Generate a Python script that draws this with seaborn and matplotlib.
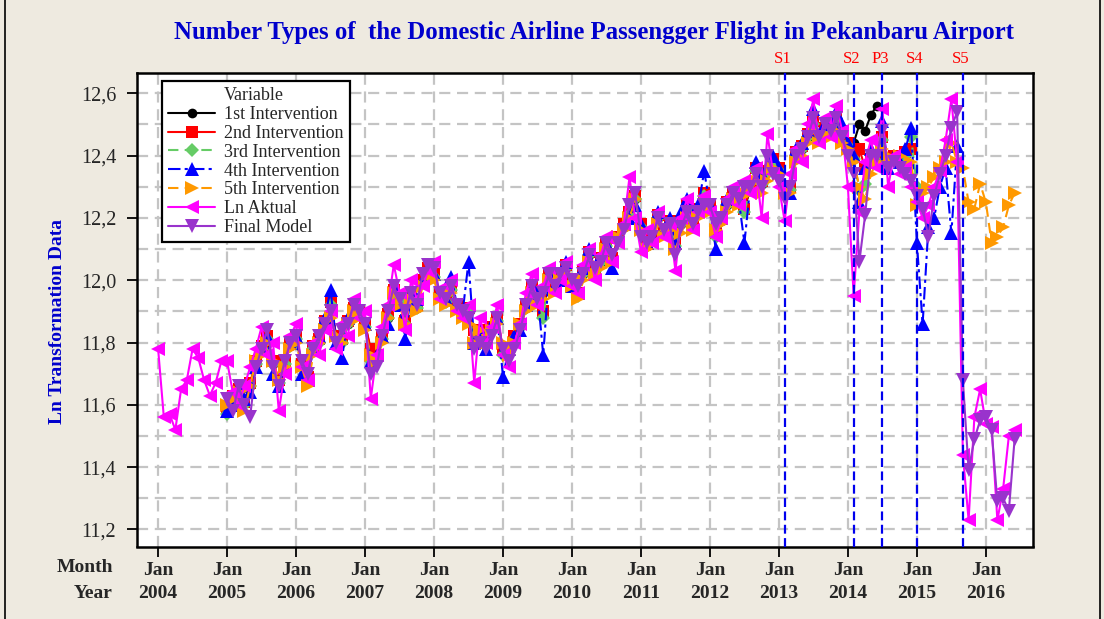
import numpy as np
import pandas as pd
import matplotlib
matplotlib.use("Agg")
import matplotlib.pyplot as plt
import seaborn as sns
from matplotlib.ticker import FixedLocator, FuncFormatter
from matplotlib.lines import Line2D
import matplotlib.transforms as mtransforms

# ---------------- data (month index 0 = Jan 2004) ----------------
ln_aktual = [
    11.78, 11.56, 11.57, 11.52, 11.65, 11.68, 11.78, 11.75, 11.68, 11.63, 11.67, 11.74,
    11.74, 11.64, 11.60, 11.66, 11.72, 11.78, 11.85, 11.76, 11.80, 11.58, 11.70, 11.82,
    11.86, 11.72, 11.68, 11.80, 11.76, 11.84, 11.90, 11.78, 11.86, 11.82, 11.94, 11.88,
    11.90, 11.62, 11.76, 11.85, 11.92, 12.05, 11.96, 11.84, 12.00, 11.94, 11.98, 12.03,
    12.06, 11.94, 11.98, 12.00, 11.90, 11.88, 11.92, 11.67, 11.88, 11.80, 11.85, 11.92,
    11.76, 11.72, 11.80, 11.86, 11.96, 12.02, 11.92, 11.98, 12.04, 11.96, 12.00, 12.06,
    11.98, 11.96, 12.05, 12.10, 12.00, 12.08, 12.14, 12.06, 12.12, 12.18, 12.33, 12.20,
    12.09, 12.16, 12.12, 12.22, 12.14, 12.18, 12.03, 12.20, 12.26, 12.16, 12.22, 12.27,
    12.22, 12.14, 12.20, 12.26, 12.30, 12.24, 12.32, 12.28, 12.36, 12.20, 12.47, 12.34,
    12.30, 12.19, 12.34, 12.42, 12.38, 12.50, 12.58, 12.44, 12.52, 12.46, 12.56, 12.48,
    12.30, 11.95, 12.22, 12.38, 12.45, 12.36, 12.55, 12.30, 12.40, 12.34, 12.36, 12.30,
    12.25, 12.20, 12.24, 12.30, 12.35, 12.45, 12.58, 12.38, 11.44, 11.23, 11.56, 11.65,
    11.54, 11.53, 11.23, 11.33, 11.50, 11.52]
aktual_start = 0

final_model = [
    11.62, 11.58, 11.66, 11.60, 11.56, 11.72, 11.78, 11.84, 11.72, 11.66, 11.74, 11.80,
    11.82, 11.74, 11.70, 11.78, 11.82, 11.86, 11.90, 11.80, 11.84, 11.86, 11.92, 11.90,
    11.86, 11.70, 11.72, 11.82, 11.90, 11.98, 11.94, 11.90, 11.96, 11.92, 12.02, 12.05,
    12.04, 11.96, 11.94, 11.98, 11.92, 11.90, 11.88, 11.78, 11.80, 11.78, 11.82, 11.88,
    11.78, 11.74, 11.78, 11.84, 11.92, 11.98, 11.94, 11.96, 12.02, 11.98, 12.02, 12.04,
    12.00, 11.98, 12.02, 12.08, 12.04, 12.06, 12.12, 12.08, 12.12, 12.16, 12.24, 12.28,
    12.14, 12.12, 12.14, 12.20, 12.16, 12.18, 12.08, 12.17, 12.22, 12.18, 12.22, 12.24,
    12.24, 12.18, 12.20, 12.24, 12.28, 12.26, 12.30, 12.30, 12.34, 12.30, 12.40, 12.34,
    12.32, 12.26, 12.30, 12.40, 12.42, 12.46, 12.52, 12.46, 12.50, 12.48, 12.52, 12.46,
    12.40, 12.34, 12.06, 12.21, 12.40, 12.40, 12.48, 12.36, 12.38, 12.36, 12.34, 12.32,
    12.27, 12.23, 12.14, 12.27, 12.34, 12.40, 12.49, 12.54, 11.68, 11.39, 11.49, 11.55,
    11.56, 11.52, 11.29, 11.30, 11.26, 11.49]
final_start = 12

int1 = [
    11.60, 11.62, 11.65, 11.61, 11.66, 11.73, 11.79, 11.81, 11.73, 11.67, 11.73, 11.79,
    11.81, 11.73, 11.69, 11.78, 11.81, 11.86, 11.92, 11.82, 11.81, 11.86, 11.91, 11.89,
    11.86, 11.77, 11.75, 11.82, 11.88, 11.96, 11.93, 11.87, 11.94, 11.91, 11.99, 12.03,
    12.01, 11.95, 11.93, 11.97, 11.91, 11.89, 11.90, 11.83, 11.83, 11.80, 11.84, 11.87,
    11.78, 11.77, 11.81, 11.85, 11.91, 11.97, 11.94, 11.89, 12.01, 11.97, 12.00, 12.04,
    11.99, 11.96, 12.02, 12.08, 12.03, 12.06, 12.11, 12.06, 12.13, 12.17, 12.21, 12.26,
    12.17, 12.11, 12.13, 12.20, 12.15, 12.18, 12.11, 12.18, 12.23, 12.17, 12.22, 12.27,
    12.23, 12.15, 12.19, 12.24, 12.27, 12.25, 12.23, 12.29, 12.35, 12.31, 12.36, 12.38,
    12.35, 12.29, 12.30, 12.40, 12.42, 12.46, 12.50, 12.45, 12.48, 12.49, 12.51, 12.47,
    12.43, 12.44, 12.50, 12.48, 12.53, 12.56]
int1_start = 12

int2 = [
    11.59, 11.63, 11.65, 11.61, 11.67, 11.74, 11.79, 11.82, 11.74, 11.68, 11.74, 11.80,
    11.82, 11.73, 11.69, 11.79, 11.81, 11.87, 11.93, 11.82, 11.81, 11.87, 11.91, 11.90,
    11.86, 11.78, 11.76, 11.82, 11.89, 11.97, 11.94, 11.87, 11.95, 11.92, 12.00, 12.04,
    12.02, 11.96, 11.94, 11.98, 11.92, 11.90, 11.91, 11.84, 11.84, 11.80, 11.85, 11.88,
    11.78, 11.78, 11.82, 11.86, 11.92, 11.98, 11.95, 11.90, 12.02, 11.98, 12.01, 12.05,
    12.00, 11.96, 12.03, 12.09, 12.04, 12.07, 12.12, 12.07, 12.14, 12.18, 12.22, 12.27,
    12.18, 12.12, 12.14, 12.21, 12.16, 12.19, 12.12, 12.19, 12.24, 12.18, 12.23, 12.28,
    12.24, 12.15, 12.20, 12.25, 12.28, 12.26, 12.23, 12.30, 12.36, 12.32, 12.35, 12.39,
    12.36, 12.30, 12.30, 12.41, 12.43, 12.47, 12.51, 12.46, 12.49, 12.50, 12.52, 12.48,
    12.44, 12.40, 12.42, 12.36, 12.39, 12.39, 12.46, 12.39, 12.40, 12.40, 12.41, 12.42]
int2_start = 12

int3 = [
    11.57, 11.61, 11.64, 11.60, 11.66, 11.73, 11.78, 11.81, 11.73, 11.67, 11.73, 11.79,
    11.81, 11.72, 11.68, 11.78, 11.80, 11.86, 11.92, 11.81, 11.80, 11.86, 11.90, 11.89,
    11.85, 11.74, 11.75, 11.81, 11.88, 11.96, 11.93, 11.86, 11.94, 11.91, 11.99, 12.03,
    12.01, 11.95, 11.93, 11.97, 11.91, 11.89, 11.90, 11.80, 11.83, 11.79, 11.84, 11.87,
    11.76, 11.77, 11.81, 11.85, 11.91, 11.97, 11.94, 11.88, 12.01, 11.97, 12.00, 12.04,
    11.99, 11.95, 12.02, 12.08, 12.03, 12.06, 12.11, 12.06, 12.13, 12.17, 12.21, 12.26,
    12.17, 12.11, 12.13, 12.20, 12.15, 12.18, 12.11, 12.18, 12.23, 12.17, 12.22, 12.27,
    12.23, 12.14, 12.19, 12.24, 12.27, 12.25, 12.22, 12.29, 12.35, 12.31, 12.34, 12.38,
    12.35, 12.29, 12.29, 12.40, 12.42, 12.46, 12.50, 12.45, 12.48, 12.49, 12.51, 12.47,
    12.43, 12.39, 12.29, 12.31, 12.38, 12.38, 12.45, 12.38, 12.39, 12.39, 12.40, 12.46,
    12.30]
int3_start = 12

int4 = [
    11.58, 11.60, 11.66, 11.62, 11.64, 11.72, 11.78, 11.82, 11.70, 11.66, 11.72, 11.80,
    11.82, 11.70, 11.68, 11.78, 11.82, 11.88, 11.97, 11.80, 11.75, 11.88, 11.92, 11.90,
    11.86, 11.74, 11.76, 11.82, 11.86, 11.98, 11.92, 11.81, 11.96, 11.94, 12.00, 12.04,
    12.02, 11.96, 11.94, 12.01, 11.92, 11.90, 12.06, 11.80, 11.84, 11.78, 11.86, 11.88,
    11.69, 11.78, 11.82, 11.84, 11.92, 11.98, 11.96, 11.76, 12.02, 11.98, 12.00, 12.06,
    11.98, 11.96, 12.04, 12.10, 12.02, 12.08, 12.12, 12.04, 12.14, 12.18, 12.20, 12.24,
    12.18, 12.12, 12.14, 12.22, 12.16, 12.20, 12.12, 12.22, 12.26, 12.18, 12.24, 12.35,
    12.24, 12.10, 12.20, 12.26, 12.28, 12.26, 12.12, 12.30, 12.38, 12.34, 12.36, 12.40,
    12.36, 12.30, 12.28, 12.42, 12.44, 12.48, 12.55, 12.46, 12.50, 12.52, 12.54, 12.50,
    12.44, 12.40, 12.25, 12.36, 12.42, 12.38, 12.51, 12.36, 12.40, 12.38, 12.42, 12.49,
    12.12, 11.86, 12.17, 12.20, 12.30, 12.36, 12.15, 12.43]
int4_start = 12

int5 = [
    11.60, 11.62, 11.64, 11.58, 11.66, 11.74, 11.76, 11.80, 11.74, 11.68, 11.72, 11.78,
    11.80, 11.72, 11.66, 11.76, 11.80, 11.84, 11.88, 11.82, 11.80, 11.86, 11.90, 11.88,
    11.84, 11.76, 11.74, 11.80, 11.88, 11.96, 11.92, 11.86, 11.94, 11.90, 11.98, 12.02,
    12.00, 11.94, 11.92, 11.96, 11.90, 11.88, 11.86, 11.80, 11.84, 11.80, 11.84, 11.86,
    11.80, 11.76, 11.80, 11.86, 11.90, 11.96, 11.92, 11.94, 12.00, 11.96, 12.00, 12.02,
    11.98, 11.94, 12.00, 12.06, 12.02, 12.04, 12.10, 12.06, 12.14, 12.16, 12.20, 12.26,
    12.16, 12.10, 12.12, 12.18, 12.14, 12.16, 12.10, 12.15, 12.20, 12.16, 12.20, 12.22,
    12.22, 12.16, 12.18, 12.22, 12.26, 12.24, 12.28, 12.28, 12.32, 12.28, 12.32, 12.36,
    12.34, 12.28, 12.28, 12.38, 12.40, 12.44, 12.48, 12.44, 12.46, 12.46, 12.48, 12.44,
    12.42, 12.38, 12.30, 12.26, 12.34, 12.38, 12.42, 12.40, 12.38, 12.40, 12.36, 12.38,
    12.24, 12.28, 12.30, 12.33, 12.36, 12.38, 12.44, 12.38, 12.36, 12.25, 12.23, 12.31,
    12.25, 12.12, 12.14, 12.17, 12.24, 12.28]
int5_start = 12

intervention_months = [109, 121, 126, 132, 140]
intervention_labels = ["S1", "S2", "P3", "S4", "S5"]
year_ticks = list(range(2004, 2017))
y_ticks = [11.2, 11.4, 11.6, 11.8, 12.0, 12.2, 12.4, 12.6]
y_grid = [11.2, 11.3, 11.4, 11.5, 11.6, 11.7, 11.8, 11.9, 12.0, 12.1, 12.2, 12.3, 12.4, 12.5, 12.6]

title = "Number Types of  the Domestic Airline Passengger Flight in Pekanbaru Airport"

# ---------------- style ----------------
sns.set_theme(style="white")
plt.rcParams["font.family"] = ["Liberation Serif", "DejaVu Serif"]

BG = "#EEEAE0"
fig = plt.figure(figsize=(11.04, 6.19), dpi=100, facecolor=BG)
W, H = 1104, 619
ax = fig.add_axes([137 / W, 1 - 546.5 / H, (1033 - 137) / W, (546.5 - 73) / H])
ax.set_facecolor("white")

# grid
for g in y_grid:
    ax.axhline(g, color="#C4C4C4", lw=1.6, ls=(0, (5, 3)), zorder=0)
for yr in year_ticks:
    ax.axvline((yr - 2004) * 12, color="#C4C4C4", lw=1.6, ls=(0, (5, 3)), zorder=0)

series = [
    ("1st Intervention", int1, int1_start, "black", "o", "-", 7),
    ("2nd Intervention", int2, int2_start, "#FF0000", "s", "-", 8),
    ("3rd Intervention", int3, int3_start, "#66CC66", "D", (0, (5, 3)), 7),
    ("4th Intervention", int4, int4_start, "#0000FF", "^", (0, (6, 2, 1.5, 2)), 10.5),
    ("5th Intervention", int5, int5_start, "#FF9900", ">", (0, (5, 3)), 10.5),
    ("Ln Aktual", ln_aktual, aktual_start, "#FF00FF", "<", "-", 10.5),
    ("Final Model", final_model, final_start, "#9933CC", "v", "-", 10.5),
]

handles = [Line2D([], [], linestyle="none", marker=None, label="Variable")]
for k, (name, vals, start, col, mk, ls, ms) in enumerate(series):
    df = pd.DataFrame({"month": np.arange(start, start + len(vals)), "value": vals})
    sns.lineplot(data=df, x="month", y="value", ax=ax, color=col, marker=mk,
                 markersize=ms, markeredgewidth=0, linestyle=ls, linewidth=1.5,
                 zorder=3 + k, legend=False)
    handles.append(Line2D([0], [0], color=col, marker=mk, markersize=ms,
                          markeredgewidth=0, linestyle=ls, linewidth=1.5, label=name))

# intervention lines and labels
trans = mtransforms.blended_transform_factory(ax.transData, ax.transAxes)
for m, lab in zip(intervention_months, intervention_labels):
    ax.axvline(m, color="#0000EE", lw=1.6, ls=(0, (4, 2)), zorder=20)
    ax.text(m - 0.4, 1.012, lab, transform=trans, ha="center", va="bottom",
            color="#FF0000", fontsize=12)

ax.set_xlim(-3.67, 152.2)
ax.set_ylim(11.1454, 12.665)

ax.xaxis.set_major_locator(FixedLocator([(y - 2004) * 12 for y in year_ticks]))
ax.set_xticklabels([f"Jan\n{y}" for y in year_ticks], fontweight="bold", fontsize=14,
                   linespacing=1.45)
ax.yaxis.set_major_locator(FixedLocator(y_ticks))
ax.yaxis.set_major_formatter(FuncFormatter(lambda v, p: f"{v:.1f}".replace(".", ",")))
for lbl in ax.get_yticklabels():
    lbl.set_fontsize(14.5)
ax.tick_params(axis="both", which="major", direction="out", length=7, width=1.3,
               color="black", bottom=True, left=True, pad=4)
ax.tick_params(axis="y", pad=8)
ax.set_xlabel("")
ax.set_ylabel("")
for sp in ax.spines.values():
    sp.set_color("black")
    sp.set_linewidth(1.8)

leg = ax.legend(handles=handles, loc="upper left",
                bbox_to_anchor=((162 - 137) / 896, (546.5 - 81) / 473.5),
                borderaxespad=0, frameon=True, fancybox=False, framealpha=1,
                edgecolor="black", fontsize=13, handlelength=2.6,
                labelspacing=0.1, borderpad=0.35, handletextpad=0.5)
leg.get_frame().set_linewidth(1.6)
leg.set_zorder(30)

fig.text(594 / W, 1 - 33 / H, title, ha="center", va="center", color="#0000CC",
         fontsize=17.8, fontweight="bold")
fig.text(58 / W, 1 - 322 / H, "Ln Transformation Data", rotation=90, ha="center",
         va="center", color="#0000CC", fontsize=14, fontweight="bold")
fig.text(113 / W, 1 - 567 / H, "Month", ha="right", va="center", fontsize=14,
         fontweight="bold")
fig.text(113 / W, 1 - 593 / H, "Year", ha="right", va="center", fontsize=14,
         fontweight="bold")

# outer frame lines
fig.add_artist(Line2D([5 / W, 5 / W], [0, 1], color="black", lw=1.2))
fig.add_artist(Line2D([1100 / W, 1100 / W], [0, 1], color="black", lw=1.2))

fig.savefig("out.png", dpi=100, facecolor=BG)
